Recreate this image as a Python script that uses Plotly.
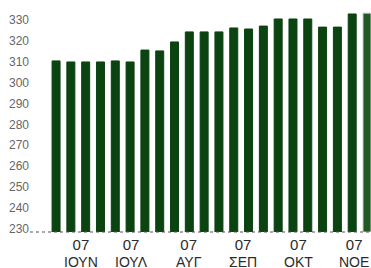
import plotly.graph_objects as go

# weekly values (index 230..340 scale)
values = [310.4, 309.9, 309.9, 309.9, 310.4, 309.9, 315.6, 315.2, 319.5, 324.3,
          324.3, 324.3, 326.2, 325.7, 327.1, 330.5, 330.5, 330.5, 326.6, 326.6,
          332.9, 333.3]
positions = list(range(len(values)))

tick_pos = [1.7, 5.1, 9.0, 12.6, 16.4, 20.1]
tick_years = ["07", "07", "07", "07", "07", "07"]
tick_months = ["ΙΟΥΝ", "ΙΟΥΛ", "ΑΥΓ", "ΣΕΠ", "ΟΚΤ", "ΝΟΕ"]
y_ticks = [230, 240, 250, 260, 270, 280, 290, 300, 310, 320, 330]

y_base = 228.4
bar_color = "#0b4410"
colors = [bar_color] * (len(values) - 1) + ["#1f5a24"]
line_colors = [bar_color] * (len(values) - 1) + ["#c8c8c8"]

fig = go.Figure()
fig.add_trace(go.Bar(
    x=positions, y=[v - y_base for v in values], base=y_base,
    marker=dict(color=colors, line=dict(color=line_colors, width=1)),
    hoverinfo="skip",
))

label_font = dict(family="Liberation Sans, Arial, sans-serif", size=13, color="#2b2b2b")
annotations = []
for p, yr, m in zip(tick_pos, tick_years, tick_months):
    annotations.append(dict(x=p, y=0, xref="x", yref="paper",
                            text=f"<span style='font-size:15px'>{yr}</span><br><span style='font-size:14px'>{m}</span>",
                            showarrow=False, xanchor="center", yanchor="middle",
                            yshift=-21, font=label_font, borderpad=0))

fig.update_layout(
    width=371, height=268,
    margin=dict(l=30, r=0, t=0, b=36),
    paper_bgcolor="white", plot_bgcolor="white",
    bargap=0.46,
    showlegend=False,
    xaxis=dict(
        range=[-1.76, 21.27],
        showticklabels=False, automargin=False,
        showgrid=False, zeroline=False, showline=False, ticks="",
    ),
    yaxis=dict(
        range=[y_base, 339.6], automargin=False,
        tickvals=y_ticks,
        showgrid=False, zeroline=False, showline=False, ticks="",
        tickfont=dict(family="Liberation Sans, Arial, sans-serif", size=12, color="#666666"),
    ),
    annotations=annotations,
    shapes=[dict(type="line", xref="paper", yref="paper", x0=0, x1=1, y0=0, y1=0,
                 line=dict(color="#555555", width=1, dash="dot"))],
)

fig.write_html("out.html", config={"displayModeBar": False},
               post_script="document.body.style.margin='0';document.body.style.overflow='hidden';")
